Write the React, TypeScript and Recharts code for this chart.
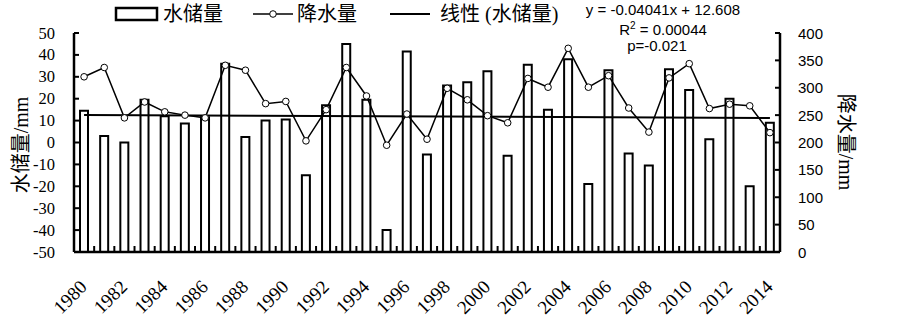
import React from "react";
import { ComposedChart, Bar, Line, XAxis, YAxis } from "recharts";

const years = [
  "1980", "1981", "1982", "1983", "1984", "1985", "1986", "1987", "1988", "1989",
  "1990", "1991", "1992", "1993", "1994", "1995", "1996", "1997", "1998", "1999",
  "2000", "2001", "2002", "2003", "2004", "2005", "2006", "2007", "2008", "2009",
  "2010", "2011", "2012", "2013", "2014",
];

// 水储量 (mm), left axis
const storage = [
  14.5, 3, 0, 19.5, 12, 8.7, 11.5, 36, 2.5, 10,
  10.5, -15, 17, 45, 19.5, -40, 41.5, -5.5, 26, 27.5,
  32.5, -6, 35.5, 15, 38, -19, 33, -5, -10.5, 33.5,
  24, 1.5, 20, -20, 9,
];

// 降水量 (mm), right axis
const precipitation = [
  320, 337, 245, 274, 256, 250, 245, 341, 332, 271,
  275, 203, 260, 337, 285, 195, 252, 206, 299, 278,
  249, 236, 317, 301, 372, 301, 322, 263, 219, 318,
  344, 262, 270, 267, 218,
];

// trend line end points (first / last year)
const trendEnds = [12.57, 11.19];

const storageTicks = [-50, -40, -30, -20, -10, 0, 10, 20, 30, 40, 50];
const precipTicks = [0, 50, 100, 150, 200, 250, 300, 350, 400];

const data = years.map((year, i) => ({
  year,
  storage: storage[i],
  precipitation: precipitation[i],
  trend: i === 0 ? trendEnds[0] : i === years.length - 1 ? trendEnds[1] : null,
}));

const SERIF = '"Liberation Serif", "DejaVu Serif", serif';
const SANS = '"Liberation Sans", "Noto Sans", sans-serif';
const CJK = '"Liberation Serif", "Noto Sans CJK SC", serif';

const YearTick = (props: any) => {
  const { x, y, index, payload } = props;
  const half = payload && typeof payload.offset === "number" ? payload.offset : 10.1;
  return (
    <g>
      {index < years.length - 1 && (
        <line x1={x + half} x2={x + half} y1={y} y2={y - 6} stroke="#000" strokeWidth={2} />
      )}
      {index % 2 === 0 && (
        <text
          x={x + 4}
          y={y + 36}
          textAnchor="end"
          transform={`rotate(-45 ${x + 4} ${y + 36})`}
          style={{ fontFamily: SERIF, fontSize: 19 }}
          fill="#000"
        >
          {payload.value}
        </text>
      )}
    </g>
  );
};

const LeftTick = (props: any) => {
  const { x, y, payload } = props;
  return (
    <g>
      <line x1={x} x2={x + 5} y1={y} y2={y} stroke="#000" strokeWidth={2} />
      <text x={x - 19} y={y} dy={5.5} textAnchor="end" style={{ fontFamily: SERIF, fontSize: 16.5 }} fill="#000">
        {payload.value}
      </text>
    </g>
  );
};

const RightTick = (props: any) => {
  const { x, y, payload } = props;
  return (
    <g>
      <line x1={x} x2={x - 5} y1={y} y2={y} stroke="#000" strokeWidth={2} />
      <text x={x + 18} y={y} dy={5.5} textAnchor="start" style={{ fontFamily: SANS, fontSize: 15 }} fill="#000">
        {payload.value}
      </text>
    </g>
  );
};

const Overlay = () => (
  <svg
    width={903}
    height={318}
    style={{ position: "absolute", left: 0, top: 0, pointerEvents: "none" }}
  >
    {/* legend */}
    <rect x={116} y={8} width={41} height={12} fill="#fff" stroke="#000" strokeWidth={2.5} />
    <text x={163} y={21} style={{ fontFamily: CJK, fontSize: 20 }} fill="#000">水储量</text>
    <line x1={253} x2={293} y1={14} y2={14} stroke="#000" strokeWidth={1.5} />
    <circle cx={273} cy={14} r={3.3} fill="#fff" stroke="#000" strokeWidth={1} />
    <text x={297} y={21} style={{ fontFamily: CJK, fontSize: 20 }} fill="#000">降水量</text>
    <line x1={390} x2={430} y1={14} y2={14} stroke="#000" strokeWidth={2} />
    <text x={440} y={21} style={{ fontFamily: CJK, fontSize: 20 }} fill="#000">线性 (水储量)</text>

    {/* trend equation */}
    <text x={663} y={15} textAnchor="middle" style={{ fontFamily: SANS, fontSize: 15 }} fill="#000">
      y = -0.04041x + 12.608
    </text>
    <text x={663} y={35} textAnchor="middle" style={{ fontFamily: SANS, fontSize: 15 }} fill="#000">
      R<tspan style={{ fontSize: 10 }} dy={-6}>2</tspan>
      <tspan dy={6}> = 0.00044</tspan>
    </text>
    <text x={657} y={51} textAnchor="middle" style={{ fontFamily: SANS, fontSize: 15 }} fill="#000">
      p=-0.021
    </text>

    {/* axis titles */}
    <text
      x={21}
      y={145}
      textAnchor="middle"
      dominantBaseline="central"
      transform="rotate(-90 21 145)"
      style={{ fontFamily: CJK, fontSize: 20 }}
      fill="#000"
    >
      水储量/mm
    </text>
    <text
      x={846}
      y={142}
      textAnchor="middle"
      dominantBaseline="central"
      transform="rotate(90 846 142)"
      style={{ fontFamily: CJK, fontSize: 20 }}
      fill="#000"
    >
      降水量/mm
    </text>
  </svg>
);

export default function App() {
  return (
    <div style={{ position: "absolute", left: 0, top: 0, width: 903, height: 318, background: "#fff" }}>
      <ComposedChart
        width={903}
        height={318}
        data={data}
        margin={{ top: 33, right: 0, bottom: 0, left: 0 }}
      >
        <XAxis
          dataKey="year"
          interval={0}
          tickSize={0}
          tickMargin={0}
          tickLine={false}
          axisLine={{ stroke: "#000", strokeWidth: 2.5 }}
          tick={YearTick}
          height={66}
        />
        <YAxis
          yAxisId="left"
          width={74}
          domain={[-50, 50]}
          ticks={storageTicks}
          interval={0}
          tickSize={0}
          tickMargin={0}
          tickLine={false}
          axisLine={{ stroke: "#000", strokeWidth: 2.5 }}
          tick={LeftTick}
        />
        <YAxis
          yAxisId="right"
          orientation="right"
          width={123}
          domain={[0, 400]}
          ticks={precipTicks}
          interval={0}
          tickSize={0}
          tickMargin={0}
          tickLine={false}
          axisLine={{ stroke: "#000", strokeWidth: 2.5 }}
          tick={RightTick}
        />
        <Bar
          yAxisId="left"
          dataKey={(d: any) => [-50, d.storage]}
          barSize={8}
          fill="#fff"
          stroke="#000"
          strokeWidth={2}
          isAnimationActive={false}
        />
        <Line
          yAxisId="left"
          dataKey="trend"
          connectNulls
          dot={false}
          stroke="#000"
          strokeWidth={2}
          isAnimationActive={false}
        />
        <Line
          yAxisId="right"
          dataKey="precipitation"
          stroke="#000"
          strokeWidth={1.5}
          dot={{ r: 3.3, fill: "#fff", stroke: "#000", strokeWidth: 1 }}
          isAnimationActive={false}
        />
      </ComposedChart>
      <Overlay />
    </div>
  );
}
